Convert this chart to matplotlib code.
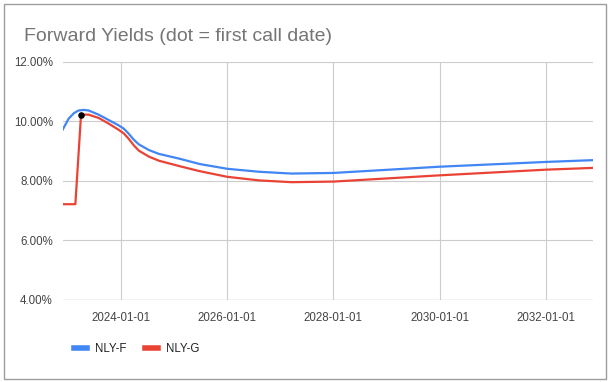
import numpy as np
import matplotlib
matplotlib.use("Agg")
import matplotlib.pyplot as plt
import matplotlib.dates as mdates
from matplotlib.lines import Line2D
from matplotlib.patches import Rectangle
from matplotlib.ticker import FuncFormatter

plt.rcParams['font.family'] = ['Liberation Sans', 'DejaVu Sans']

# NLY-F forward yield (%)
f_dates = ['2022-11-24', '2023-01-04', '2023-02-10', '2023-03-14', '2023-04-18',
           '2023-05-22', '2023-07-30', '2023-10-07', '2023-12-15', '2024-01-19',
           '2024-02-22', '2024-03-28', '2024-05-02', '2024-07-10', '2024-09-18',
           '2025-02-05', '2025-06-25', '2026-01-01', '2026-04-20', '2026-08-08',
           '2027-03-17', '2028-01-01', '2030-01-01', '2032-01-01', '2032-11-20']
f_yield = [9.72, 10.09, 10.28, 10.37, 10.39,
           10.37, 10.23, 10.05, 9.87, 9.76,
           9.59, 9.39, 9.23, 9.04, 8.91,
           8.75, 8.57, 8.41, 8.36, 8.31,
           8.25, 8.27, 8.48, 8.64, 8.70]

# NLY-G forward yield (%)
g_dates = ['2022-11-24', '2023-02-20', '2023-03-31', '2023-05-22', '2023-07-30',
           '2023-10-07', '2023-12-15', '2024-01-19', '2024-02-22', '2024-03-28',
           '2024-05-02', '2024-07-10', '2024-09-18', '2025-02-05', '2025-06-25',
           '2026-01-01', '2026-04-20', '2026-08-08', '2027-03-17', '2028-01-01',
           '2030-01-01', '2032-01-01', '2032-11-20']
g_yield = [7.22, 7.22, 10.23, 10.23, 10.12,
           9.93, 9.72, 9.60, 9.42, 9.20,
           9.02, 8.82, 8.68, 8.50, 8.33,
           8.14, 8.08, 8.02, 7.96, 7.98,
           8.19, 8.38, 8.44]

call_date = '2023-03-31'
call_yield = 10.23

x_ticks = ['2024-01-01', '2026-01-01', '2028-01-01', '2030-01-01', '2032-01-01']
y_ticks = [4, 6, 8, 10, 12]

fd = np.array(f_dates, dtype='datetime64[D]')
gd = np.array(g_dates, dtype='datetime64[D]')

fig = plt.figure(figsize=(6.10, 3.82), dpi=100)
ax = fig.add_axes([0.1026, 0.2147, 0.869, 0.623])

ax.plot(fd, f_yield, color='#4285F4', lw=1.6, label='NLY-F', zorder=3,
        solid_joinstyle='round')
ax.plot(gd, g_yield, color='#EA4335', lw=1.6, label='NLY-G', zorder=3,
        solid_joinstyle='round')
ax.scatter([np.datetime64(call_date)], [call_yield], s=14, color='black', zorder=4)

ax.set_xlim(fd[0], fd[-1])
ax.set_ylim(4, 12)
ax.set_xticks(np.array(x_ticks, dtype='datetime64[D]'))
ax.xaxis.set_major_formatter(mdates.DateFormatter('%Y-%m-%d'))
ax.set_yticks(y_ticks)
ax.yaxis.set_major_formatter(FuncFormatter(lambda v, p: f'{v:.2f}%'))
ax.grid(True, color='#cccccc', lw=0.8)
ax.set_axisbelow(True)
for s in ax.spines.values():
    s.set_visible(False)
ax.tick_params(length=0, labelsize=8.3, colors='#444444', pad=9)
ax.tick_params(axis='y', pad=7)
ax.axhline(4, color='#bbbbbb', lw=0.9, zorder=1)

fig.text(0.039, 0.893, 'Forward Yields (dot = first call date)', fontsize=14,
         color='#757575', ha='left', va='baseline')

handles = [Line2D([], [], color='#4285F4', lw=4),
           Line2D([], [], color='#EA4335', lw=4)]
fig.legend(handles, ['NLY-F', 'NLY-G'], loc='center left',
           bbox_to_anchor=(0.105, 0.087), ncol=2, frameon=False,
           fontsize=8.3, handlelength=1.1, handletextpad=0.7,
           columnspacing=1.6, labelcolor='#222222')

fig.patches.append(Rectangle((0.007, 0.008), 0.986, 0.982, transform=fig.transFigure,
                             fill=False, edgecolor='#9e9e9e', lw=1))

fig.savefig('out.png', dpi=100)
